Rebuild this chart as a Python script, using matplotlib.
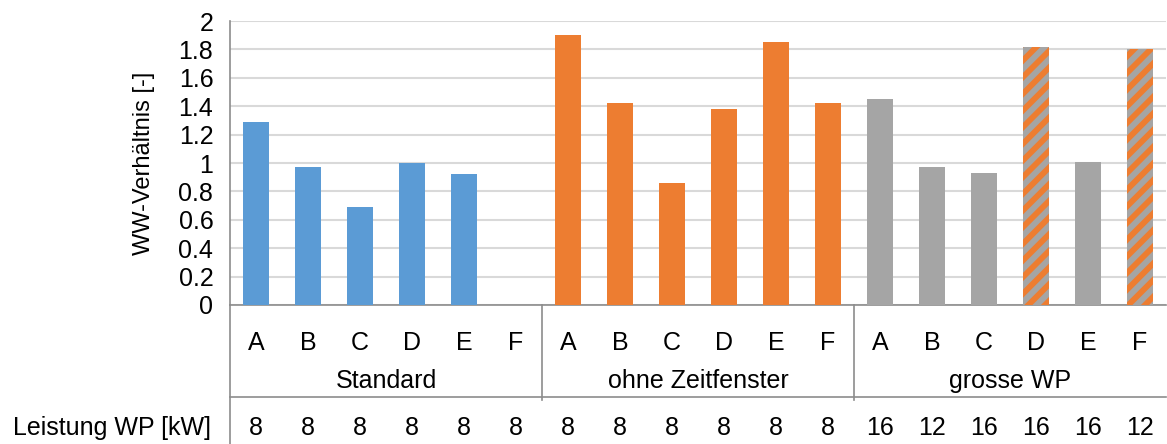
import matplotlib.pyplot as plt
import matplotlib.transforms as mtransforms
import numpy as np

# Werte aus dem Diagramm
gruppen = ["Standard", "ohne Zeitfenster", "grosse WP"]
varianten = ["A", "B", "C", "D", "E", "F"]
standard = [1.29, 0.97, 0.69, 1.00, 0.92, np.nan]
ohne_zeitfenster = [1.90, 1.42, 0.86, 1.38, 1.85, 1.42]
grosse_wp = [1.45, 0.97, 0.93, 1.815, 1.01, 1.80]
grosse_wp_schraffiert = [False, False, False, True, False, True]
leistung_wp = [8, 8, 8, 8, 8, 8, 8, 8, 8, 8, 8, 8, 16, 12, 16, 16, 16, 12]

blau = "#5B9BD5"
orange = "#ED7D31"
grau = "#A5A5A5"
linie = "#8C8C8C"

plt.rcParams["font.family"] = ["Liberation Sans", "DejaVu Sans"]
plt.rcParams["font.size"] = 18
plt.rcParams["hatch.linewidth"] = 4.2

fig = plt.figure(figsize=(11.67, 4.44), dpi=100)
ax = fig.add_axes([230 / 1167, 1 - 305 / 444, 936 / 1167, 284 / 444])

n = len(varianten)
x = np.arange(3 * n)
werte = [standard, ohne_zeitfenster, grosse_wp]
farben = [blau, orange, grau]

for g in range(3):
    xs = x[g * n:(g + 1) * n]
    if g < 2:
        ax.bar(xs, werte[g], width=0.5, color=farben[g], zorder=3)
    else:
        for xi, v, s in zip(xs, werte[g], grosse_wp_schraffiert):
            if s:
                ax.bar(xi, v, width=0.5, facecolor=grau, edgecolor=orange,
                       hatch="//", linewidth=0, zorder=3)
            else:
                ax.bar(xi, v, width=0.5, color=grau, zorder=3)

ax.set_xlim(-0.5, 3 * n - 0.5)
ax.set_ylim(0, 2)
ax.set_yticks(np.arange(0, 2.01, 0.2))
ax.set_yticklabels(["0", "0.2", "0.4", "0.6", "0.8", "1", "1.2", "1.4", "1.6", "1.8", "2"])
ax.tick_params(axis="y", length=0, pad=12)
ax.set_xticks([])
ax.grid(axis="y", color="#D9D9D9", linewidth=1.5, zorder=0)
for s in ["top", "right"]:
    ax.spines[s].set_visible(False)
ax.spines["left"].set_color(linie)
ax.spines["bottom"].set_color(linie)
ax.spines["left"].set_linewidth(1.2)
ax.spines["bottom"].set_linewidth(1.2)
ax.set_ylabel("WW-Verhältnis [-]", fontsize=17)
ax.yaxis.set_label_coords(-0.08, 0.5)

# Tabelle unter der Achse
trans = mtransforms.blended_transform_factory(ax.transData, ax.transAxes)
for i in range(3 * n):
    ax.text(x[i], -0.134, varianten[i % n], transform=trans, ha="center", va="center")
    ax.text(x[i], -0.433, str(leistung_wp[i]), transform=trans, ha="center", va="center")
for g in range(3):
    ax.text(x[g * n] + (n - 1) / 2, -0.268, gruppen[g], transform=trans,
            ha="center", va="center")
for g in range(1, 3):
    xs = x[g * n] - 0.5
    ax.plot([xs, xs], [0, -0.335], transform=trans, color=linie, lw=1.2, clip_on=False)
ax.plot([-0.5, 3 * n - 0.5], [-0.324, -0.324], transform=trans, color=linie, lw=1.2,
        clip_on=False)
ax.plot([-0.5, -0.5], [0, -0.52], transform=trans, color=linie, lw=1.2, clip_on=False)
ax.text(-0.02, -0.433, "Leistung WP [kW]", transform=ax.transAxes, ha="right", va="center")

fig.savefig("out.png", dpi=100)
